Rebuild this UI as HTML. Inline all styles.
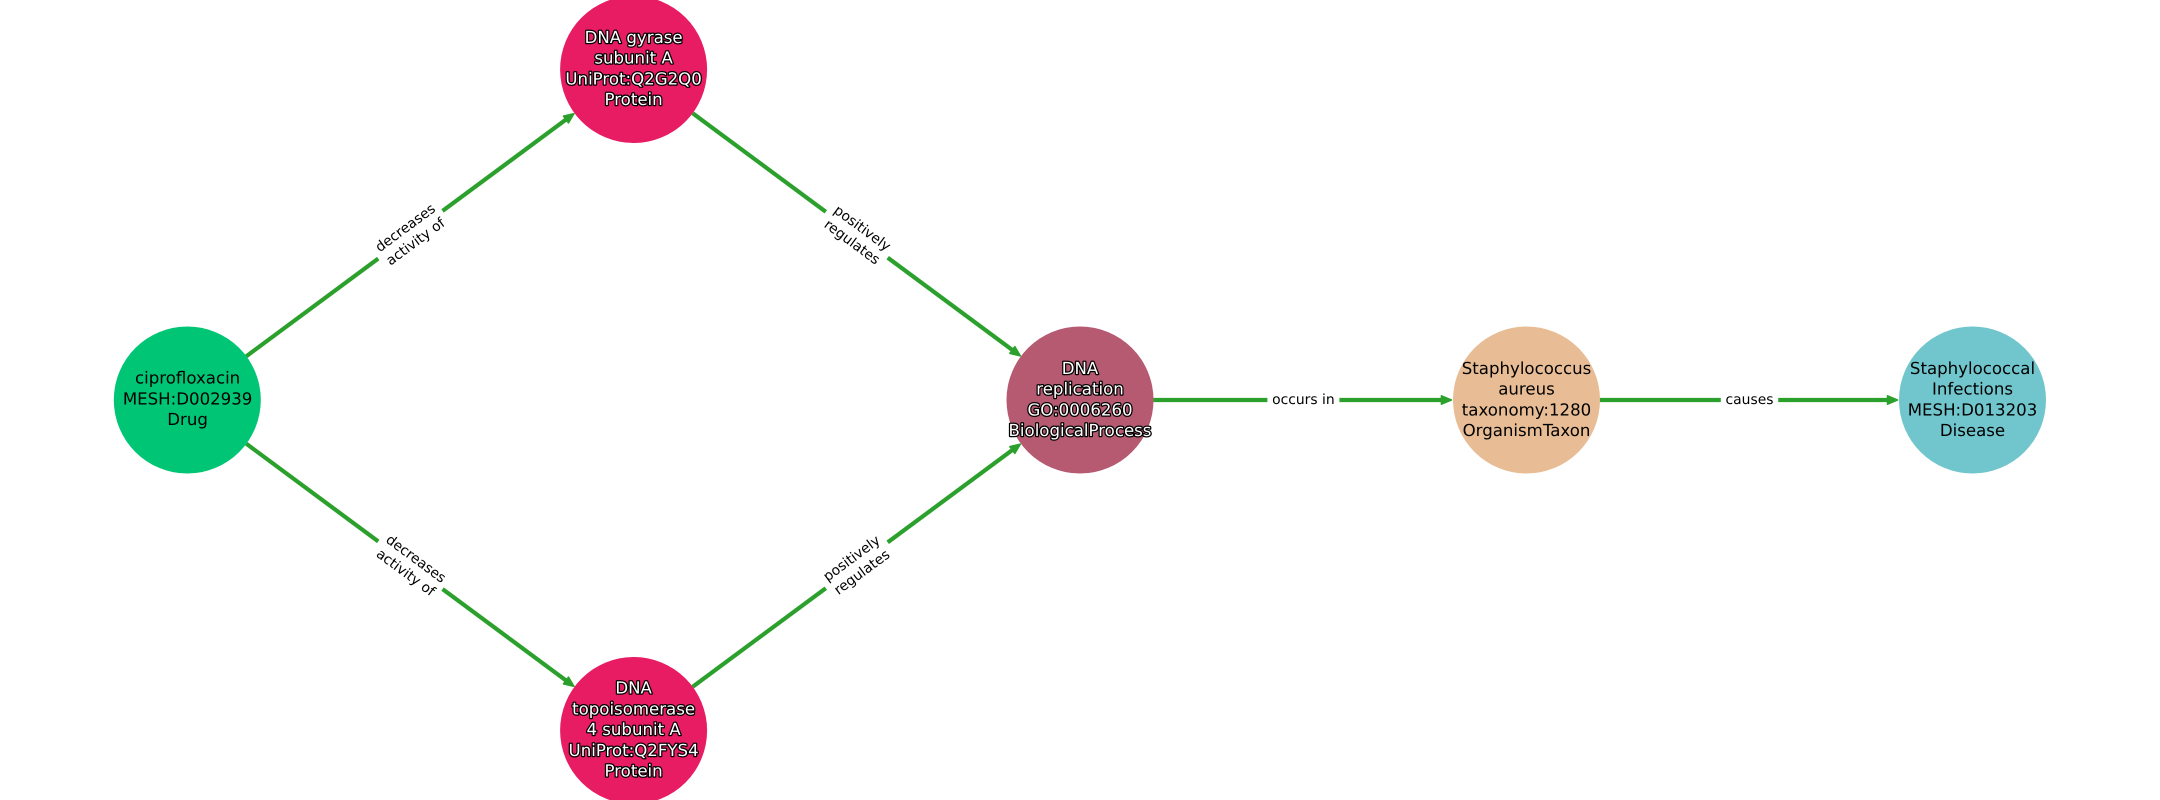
<!DOCTYPE html>
<html lang="en">
<head>
<meta charset="utf-8">
<title>Diagram</title>
<style>
html,body{margin:0;padding:0;background:#fff;width:2160px;height:800px;overflow:hidden}
svg{display:block}
text{font-family:"DejaVu Sans",sans-serif;text-anchor:middle;text-rendering:geometricPrecision}
.n{font-size:16.6px;fill:#000}
.w{font-size:16.6px;fill:#fff;stroke:#000;stroke-width:2.5px;paint-order:stroke;stroke-linejoin:round}
.e{font-size:13.89px;fill:#000}
.l{stroke:#2ca02c;stroke-width:4.17;fill:none}
.a{fill:#2ca02c;stroke:#2ca02c;stroke-width:1.5;stroke-linejoin:round}
</style>
</head>
<body>
<svg width="2160" height="800" viewBox="0 0 2160 800" xmlns="http://www.w3.org/2000/svg">
<rect width="2160" height="800" fill="#fff"/>

<!-- edge: ciprofloxacin to gyrase -->
<g transform="translate(410.4 234.75) rotate(-36.52)">
<line class="l" x1="-204.2" y1="0" x2="-40" y2="0"/><line class="l" x1="40" y1="0" x2="195" y2="0"/>
<polygon class="a" points="203.6,0 193.6,-4.2 193.6,4.2"/>
<text class="e" x="0" y="-4">decreases</text><text class="e" x="0" y="13.2">activity of</text>
</g>
<!-- edge: ciprofloxacin to topoisomerase -->
<g transform="translate(410.4 565.25) rotate(36.52)">
<line class="l" x1="-204.2" y1="0" x2="-40" y2="0"/><line class="l" x1="40" y1="0" x2="195" y2="0"/>
<polygon class="a" points="203.6,0 193.6,-4.2 193.6,4.2"/>
<text class="e" x="0.6" y="-4">decreases</text><text class="e" x="0.6" y="13.2">activity of</text>
</g>
<!-- edge: gyrase to replication -->
<g transform="translate(856.75 234.75) rotate(36.52)">
<line class="l" x1="-204.2" y1="0" x2="-38.5" y2="0"/><line class="l" x1="38.5" y1="0" x2="195" y2="0"/>
<polygon class="a" points="203.6,0 193.6,-4.2 193.6,4.2"/>
<text class="e" x="0.6" y="-4">positively</text><text class="e" x="0.6" y="13.2">regulates</text>
</g>
<!-- edge: topoisomerase to replication -->
<g transform="translate(856.75 565.25) rotate(-36.52)">
<line class="l" x1="-204.2" y1="0" x2="-38.5" y2="0"/><line class="l" x1="38.5" y1="0" x2="195" y2="0"/>
<polygon class="a" points="203.6,0 193.6,-4.2 193.6,4.2"/>
<text class="e" x="0" y="-4">positively</text><text class="e" x="0" y="13.2">regulates</text>
</g>
<!-- edge: replication to staph -->
<g transform="translate(1303.4 400)">
<line class="l" x1="-150" y1="0" x2="-36" y2="0"/><line class="l" x1="36" y1="0" x2="140" y2="0"/>
<polygon class="a" points="148,0 138,-4.2 138,4.2"/>
<text class="e" x="0" y="4.2">occurs in</text>
</g>
<!-- edge: staph to infections -->
<g transform="translate(1749.5 400)">
<line class="l" x1="-150" y1="0" x2="-28.7" y2="0"/><line class="l" x1="28.7" y1="0" x2="140" y2="0"/>
<polygon class="a" points="148,0 138,-4.2 138,4.2"/>
<text class="e" x="0" y="4.2">causes</text>
</g>

<!-- nodes -->
<circle cx="187.3" cy="400" r="73.5" fill="#00c574"/>
<circle cx="633.6" cy="69.5" r="73.5" fill="#e71c62"/>
<circle cx="633.6" cy="730.5" r="73.5" fill="#e71c62"/>
<circle cx="1080" cy="400" r="73.5" fill="#b55a70"/>
<circle cx="1526.5" cy="400" r="73.5" fill="#e8bd95"/>
<circle cx="1972.5" cy="400" r="73.5" fill="#70c6cc"/>

<!-- node labels -->
<text class="n" x="187.6" y="383.7">ciprofloxacin</text>
<text class="n" x="187.6" y="404.4">MESH:D002939</text>
<text class="n" x="187.6" y="425.1">Drug</text>

<text class="w" x="633.6" y="43">DNA gyrase</text>
<text class="w" x="633.6" y="63.7">subunit A</text>
<text class="w" x="633.6" y="84.4">UniProt:Q2G2Q0</text>
<text class="w" x="633.6" y="105.1">Protein</text>

<text class="w" x="633.6" y="693.7">DNA</text>
<text class="w" x="633.6" y="714.4">topoisomerase</text>
<text class="w" x="633.6" y="735.1">4 subunit A</text>
<text class="w" x="633.6" y="755.8">UniProt:Q2FYS4</text>
<text class="w" x="633.6" y="776.5">Protein</text>

<text class="w" x="1080" y="374">DNA</text>
<text class="w" x="1080" y="394.7">replication</text>
<text class="w" x="1080" y="415.4">GO:0006260</text>
<text class="w" x="1080" y="436.1">BiologicalProcess</text>

<text class="n" x="1526.5" y="374">Staphylococcus</text>
<text class="n" x="1526.5" y="394.7">aureus</text>
<text class="n" x="1526.5" y="415.4">taxonomy:1280</text>
<text class="n" x="1526.5" y="436.1">OrganismTaxon</text>

<text class="n" x="1972.5" y="374">Staphylococcal</text>
<text class="n" x="1972.5" y="394.7">Infections</text>
<text class="n" x="1972.5" y="415.4">MESH:D013203</text>
<text class="n" x="1972.5" y="436.1">Disease</text>
</svg>
</body>
</html>
